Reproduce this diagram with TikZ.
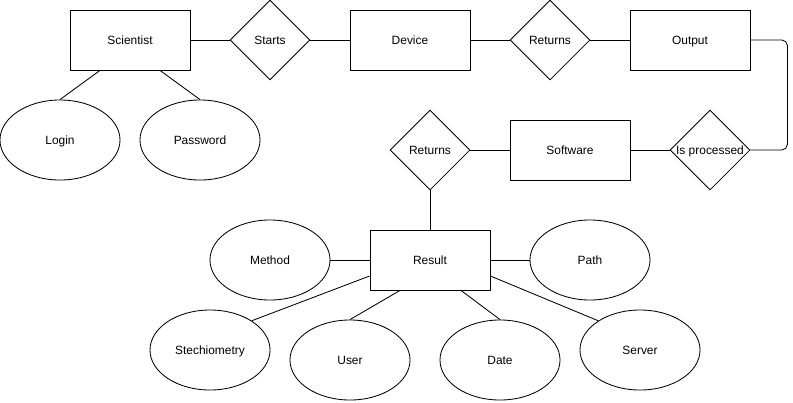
\documentclass[tikz,border=0pt]{standalone}
\usepackage{fontspec}
\setmainfont{Liberation Sans}
\usetikzlibrary{shapes.geometric}

\begin{document}
\begin{tikzpicture}[x=0.025cm, y=-0.025cm, line width=0.6pt]
    % Define styles
    \tikzstyle{entity} = [rectangle, draw, minimum width=3cm, minimum height=1.5cm, inner sep=0pt, text height=1.6ex, text depth=0.4ex, font=\fontsize{8.5}{10}\selectfont]
    \tikzstyle{rel} = [diamond, draw, minimum width=2cm, minimum height=2cm, inner sep=0pt, text height=1.6ex, text depth=0.4ex, font=\fontsize{8.5}{10}\selectfont]
    \tikzstyle{attr} = [ellipse, draw, minimum width=3cm, minimum height=2cm, inner sep=0pt, text height=1.6ex, text depth=0.4ex, font=\fontsize{8.5}{10}\selectfont]

    \useasboundingbox (0,0) rectangle (793,402);

    % Top row
    \node[entity] (scientist) at (130,40) {Scientist};
    \node[rel] (starts) at (270,40) {Starts};
    \node[entity] (device) at (410,40) {Device};
    \node[rel] (returns_out) at (550,40) {Returns};
    \node[entity] (output) at (690,40) {Output};

    % Scientist attributes
    \node[attr] (login) at (60,140) {Login};
    \node[attr] (password) at (200,140) {Password};

    % Middle row
    \node[rel] (processed) at (710,150) {\makebox[0pt]{Is processed}};
    \node[entity] (software) at (570,150) {Software};
    \node[rel] (returns_res) at (430,150) {Returns};

    % Result and its attributes
    \node[entity] (result) at (430,260) {Result};
    \node[attr] (method) at (270,260) {Method};
    \node[attr] (path) at (590,260) {Path};
    \node[attr] (stech) at (210,350) {Stechiometry};
    \node[attr] (user) at (350,360) {User};
    \node[attr] (date) at (500,360) {Date};
    \node[attr] (server) at (640,350) {Server};

    % Connections
    \draw (scientist) -- (starts) -- (device) -- (returns_out) -- (output);
    \draw ([xshift=-0.75cm]scientist.south) -- (login.north);
    \draw ([xshift=0.75cm]scientist.south) -- (password.north);
    \draw[rounded corners=4pt] (output.east) -- ([xshift=0.925cm]output.east) |- (processed.east);
    \draw (processed) -- (software) -- (returns_res) -- (result);
    \draw (result) -- (method);
    \draw (result) -- (path);
    \draw ([yshift=-0.4cm]result.west) -- (stech.35);
    \draw ([xshift=-0.75cm]result.south) -- (user.north);
    \draw ([xshift=0.775cm]result.south) -- (date.north);
    \draw ([yshift=-0.4cm]result.east) -- (server.145);
\end{tikzpicture}
\end{document}
